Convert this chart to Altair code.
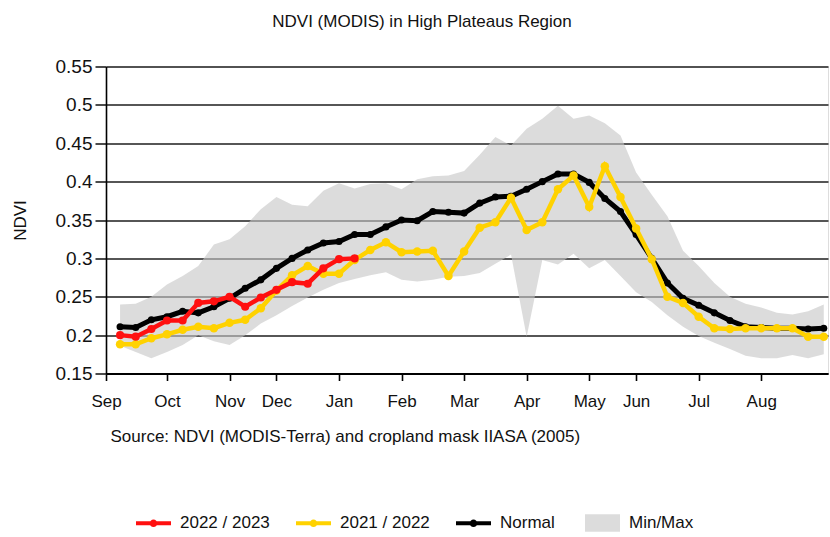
import json
import altair as alt
import pandas as pd

# --- data: 8-day MODIS composites, September to August (46 per season) ---
months = ["Sep", "Oct", "Nov", "Dec", "Jan", "Feb", "Mar", "Apr", "May", "Jun", "Jul", "Aug"]
month_pos = [-0.9, 3, 7, 10, 14, 18, 22, 26, 30, 33, 37, 41]

normal = [0.211, 0.210, 0.220, 0.224, 0.231, 0.229, 0.237, 0.248, 0.261, 0.272,
          0.287, 0.300, 0.311, 0.320, 0.322, 0.331, 0.331, 0.341, 0.350, 0.349,
          0.361, 0.360, 0.359, 0.372, 0.380, 0.381, 0.390, 0.400, 0.410, 0.410,
          0.399, 0.378, 0.361, 0.331, 0.300, 0.268, 0.248, 0.239, 0.229, 0.219,
          0.211, 0.210, 0.209, 0.209, 0.208, 0.209]

season_2122 = [0.188, 0.188, 0.196, 0.201, 0.207, 0.211, 0.209, 0.216, 0.220, 0.235,
               0.258, 0.278, 0.290, 0.280, 0.280, 0.298, 0.311, 0.321, 0.308, 0.309,
               0.310, 0.277, 0.309, 0.340, 0.347, 0.379, 0.337, 0.347, 0.390, 0.408,
               0.367, 0.420, 0.380, 0.339, 0.299, 0.250, 0.242, 0.224, 0.209, 0.208,
               0.209, 0.209, 0.209, 0.209, 0.198, 0.198]

season_2223 = [0.200, 0.198, 0.208, 0.219, 0.219, 0.242, 0.244, 0.250, 0.237, 0.249,
               0.259, 0.269, 0.267, 0.287, 0.299, 0.300]

range_min = [0.186, 0.178, 0.170, 0.178, 0.187, 0.200, 0.192, 0.187, 0.200, 0.215,
             0.226, 0.238, 0.249, 0.259, 0.268, 0.273, 0.278, 0.282, 0.272, 0.270,
             0.272, 0.276, 0.277, 0.281, 0.293, 0.305, 0.198, 0.298, 0.292, 0.306,
             0.287, 0.298, 0.277, 0.256, 0.243, 0.226, 0.211, 0.199, 0.190, 0.182,
             0.173, 0.170, 0.170, 0.174, 0.170, 0.175]

range_max = [0.240, 0.241, 0.250, 0.266, 0.277, 0.290, 0.318, 0.325, 0.342, 0.364,
             0.380, 0.370, 0.368, 0.388, 0.398, 0.391, 0.397, 0.398, 0.390, 0.403,
             0.407, 0.408, 0.414, 0.435, 0.458, 0.447, 0.469, 0.482, 0.499, 0.482,
             0.486, 0.476, 0.460, 0.412, 0.383, 0.355, 0.310, 0.290, 0.268, 0.250,
             0.241, 0.236, 0.229, 0.227, 0.231, 0.240]

y_ticks = [0.15, 0.2, 0.25, 0.3, 0.35, 0.4, 0.45, 0.5, 0.55]

series_names = ["2022 / 2023", "2021 / 2022", "Normal"]
series_colors = ["#ff1010", "#ffd200", "#000000"]

# --- tables ---
rows = []
for name, vals in [("Normal", normal), ("2021 / 2022", season_2122), ("2022 / 2023", season_2223)]:
    for i, v in enumerate(vals):
        rows.append({"composite": i, "series": name, "line_series": name, "ndvi": v})
lines_df = pd.DataFrame(rows)

band_df = pd.DataFrame({
    "composite": list(range(len(range_min))),
    "lo": range_min,
    "hi": range_max,
    "band": "Min/Max",
})

FONT = "Liberation Sans"
INK = "#111111"

x_scale = alt.Scale(domain=[-0.9, 45.27], nice=False, zero=False)
y_scale = alt.Scale(domain=[0.15, 0.55], nice=False, zero=False)

label_expr = "{}[indexof({}, datum.value)]".format(json.dumps(months), json.dumps(month_pos))

x_axis = alt.Axis(
    values=month_pos, labelExpr=label_expr, grid=False, labelFlush=False,
    tickSize=7, tickColor="#000", tickWidth=1.6,
    domainColor="#000", domainWidth=2,
    labelFont=FONT, labelFontSize=17, labelColor=INK, labelPadding=13,
    title="Source: NDVI (MODIS-Terra) and cropland mask IIASA (2005)",
    titleFont=FONT, titleFontSize=17, titleFontWeight="normal", titleColor=INK,
    titleAnchor="start", titleAlign="left", titleX=4, titleY=68,
    titleBaseline="alphabetic",
)

y_axis = alt.Axis(
    values=y_ticks, format="~g", grid=True, gridColor="#1e1e1e", gridWidth=1.6,
    labelFlush=False, tickSize=11, tickColor="#1e1e1e", tickWidth=1.6,
    domainColor="#000", domainWidth=1.6,
    labelFont=FONT, labelFontSize=19, labelColor=INK, labelPadding=3,
    title="NDVI", titleFont=FONT, titleFontSize=17, titleFontWeight="normal",
    titleColor=INK, titleX=-86, titleY=153.5, titleAngle=270,
    titleAlign="center", titleBaseline="middle",
)

series_legend = alt.Legend(
    title=None, orient="none", legendX=30, legendY=439, direction="horizontal",
    symbolType="M-1,-0.11H1V0.11H-1Z M-0.22,0A0.22,0.22,0,1,1,0.22,0A0.22,0.22,0,1,1,-0.22,0Z",
    symbolSize=1225, symbolStrokeWidth=0, symbolOpacity=1,
    labelFont=FONT, labelFontSize=17, labelFontWeight="normal", labelColor=INK,
    labelOffset=9, columnPadding=26, padding=0,
)

band_legend = alt.Legend(
    title=None, orient="none", legendX=479, legendY=439, direction="horizontal",
    symbolType="M-1,-0.5H1V0.5H-1Z", symbolSize=1225, symbolStrokeWidth=0,
    labelFont=FONT, labelFontSize=17, labelFontWeight="normal", labelColor=INK,
    labelOffset=9, padding=0,
)

band = alt.Chart(band_df).mark_area(opacity=0.62).encode(
    x=alt.X("composite:Q", scale=x_scale, axis=x_axis),
    y=alt.Y("lo:Q", scale=y_scale, axis=y_axis),
    y2="hi:Q",
    fill=alt.Fill("band:N", scale=alt.Scale(domain=["Min/Max"], range=["#c6c6c6"]),
                  legend=band_legend),
)

stroke_scale = alt.Scale(domain=series_names, range=series_colors)
color_scale = alt.Scale(domain=series_names, range=series_colors)

styles = {
    "Normal": dict(width=5, size=50),
    "2021 / 2022": dict(width=4.5, size=72),
    "2022 / 2023": dict(width=4.5, size=66),
}

layers = [band]
for name in ["Normal", "2021 / 2022", "2022 / 2023"]:
    base = alt.Chart(lines_df).transform_filter(alt.datum.series == name)
    enc = dict(
        x=alt.X("composite:Q", scale=x_scale, axis=x_axis),
        y=alt.Y("ndvi:Q", scale=y_scale, axis=y_axis),
    )
    line = base.mark_line(strokeWidth=styles[name]["width"]).encode(
        stroke=alt.Stroke("line_series:N", scale=stroke_scale, legend=None), **enc
    )
    # one legend listing all three seasons is drawn from the first point layer
    legend = series_legend if name == "Normal" else None
    pts = base.mark_circle(size=styles[name]["size"], opacity=1).encode(
        color=alt.Color("series:N", scale=color_scale, legend=legend), **enc
    )
    layers += [line, pts]

chart = alt.layer(*layers).properties(
    width=722,
    height=307,
    autosize=alt.AutoSizeParams(type="none"),
    padding={"left": 106, "top": 66.5, "right": 2, "bottom": 163.5},
    title=alt.TitleParams(
        text="NDVI (MODIS) in High Plateaus Region",
        font=FONT, fontSize=17, fontWeight="normal", color=INK,
        anchor="middle", frame="group", baseline="alphabetic", offset=13.5, dx=-45,
    ),
).resolve_legend(color="independent", stroke="independent", fill="independent"
).configure_view(stroke=None).configure(background="white")

chart.save("out.html", embed_options={"renderer": "svg", "actions": False})
